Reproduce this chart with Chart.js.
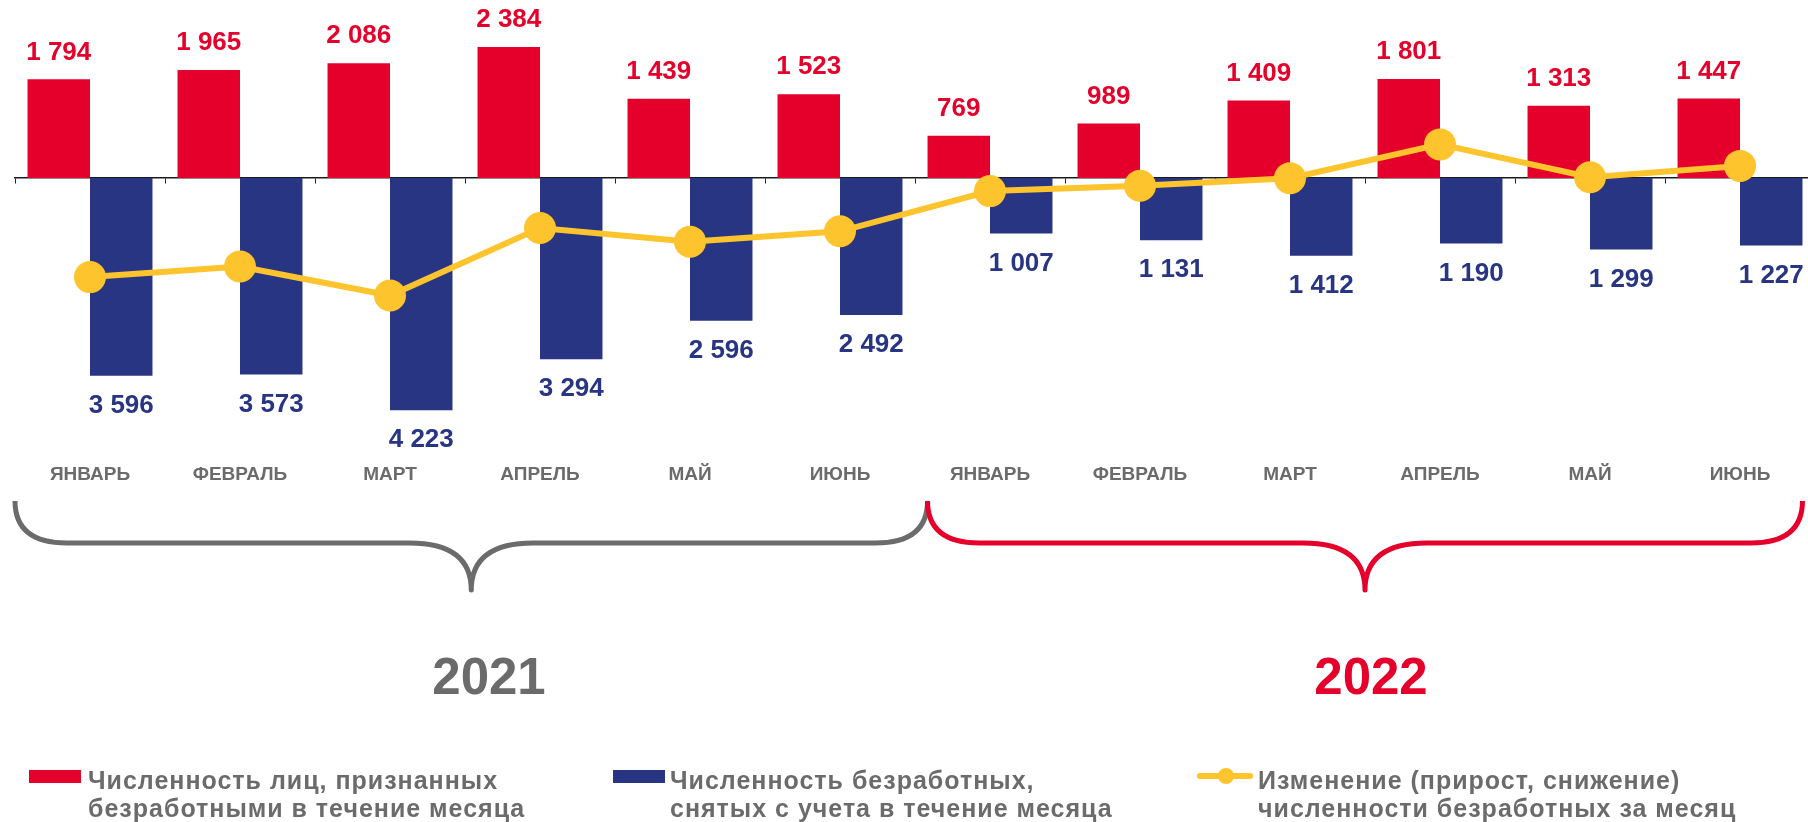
<!DOCTYPE html>
<html lang="ru">
<head>
<meta charset="utf-8">
<title>Численность безработных</title>
<script src="https://cdn.jsdelivr.net/npm/chart.js@4.4.1/dist/chart.umd.min.js"></script>
<style>
  html, body { margin:0; padding:0; width:1808px; height:822px; overflow:hidden; background:#ffffff;
    font-family:"Liberation Sans", Arial, sans-serif; }
  #wrap { position:absolute; left:0; top:0; width:1815px; height:822px; }
  .year { position:absolute; font-weight:bold; font-size:51px; line-height:1; transform:translate(-50%,-50%); white-space:nowrap; }
  .leg { position:absolute; top:766px; font-weight:bold; font-size:25px; line-height:28px; color:#6b6b6b;
    white-space:nowrap; letter-spacing:1px; }
  .box { position:absolute; width:52px; height:13px; top:770px; }
  .lmline { position:absolute; width:56px; height:6px; top:773px; border-radius:3px; }
  .lmdot { position:absolute; width:16px; height:16px; top:768px; border-radius:50%; }
</style>
</head>
<body>
<div id="wrap"><canvas id="c" width="1815" height="822"></canvas></div>
<div id="years"></div>
<div id="legend"></div>
<script>
// ---- data ----
const months = ['ЯНВАРЬ','ФЕВРАЛЬ','МАРТ','АПРЕЛЬ','МАЙ','ИЮНЬ','ЯНВАРЬ','ФЕВРАЛЬ','МАРТ','АПРЕЛЬ','МАЙ','ИЮНЬ'];
const years = ['2021', '2022'];
const recognized = [1794, 1965, 2086, 2384, 1439, 1523, 769, 989, 1409, 1801, 1313, 1447];
const removed = [3596, 3573, 4223, 3294, 2596, 2492, 1007, 1131, 1412, 1190, 1299, 1227];
const change = [-1802, -1608, -2137, -910, -1157, -969, -238, -142, -3, 611, 14, 220];
const seriesNames = [
  'Численность лиц, признанных\nбезработными в течение месяца',
  'Численность безработных,\nснятых с учета в течение месяца',
  'Изменение (прирост, снижение)\nчисленности безработных за месяц'
];

// ---- styles ----
const RED = '#e4002b';
const BLUE = '#283583';
const GOLD = '#fec42d';
const GRAY = '#6b6b6b';
const FONT = '"Liberation Sans", Arial, sans-serif';

const fmt = v => String(Math.abs(v)).replace(/\B(?=(\d{3})+(?!\d))/g, ' ');

function drawBrace(ctx, a, b, color) {
  const c = (a + b) / 2, y0 = 501, y1 = 543, y2 = 590, r1 = 52, r2 = 62;
  ctx.beginPath();
  ctx.moveTo(a, y0);
  ctx.quadraticCurveTo(a, y1, a + r1, y1);
  ctx.lineTo(c - r2, y1);
  ctx.quadraticCurveTo(c, y1, c, y2);
  ctx.quadraticCurveTo(c, y1, c + r2, y1);
  ctx.lineTo(b - r1, y1);
  ctx.quadraticCurveTo(b, y1, b, y0);
  ctx.lineWidth = 5;
  ctx.strokeStyle = color;
  ctx.lineJoin = 'round';
  ctx.stroke();
}

const decoPlugin = {
  id: 'deco',
  afterDatasetsDraw(chart) {
    const ctx = chart.ctx;
    const m0 = chart.getDatasetMeta(0), m1 = chart.getDatasetMeta(1);
    ctx.save();
    ctx.font = 'bold 26px ' + FONT;
    ctx.textAlign = 'center';
    ctx.textBaseline = 'middle';
    m0.data.forEach((el, i) => { ctx.fillStyle = RED; ctx.fillText(fmt(recognized[i]), el.x, el.y - 27); });
    m1.data.forEach((el, i) => { ctx.fillStyle = BLUE; ctx.fillText(fmt(removed[i]), el.x, el.y + 30); });
    ctx.restore();
  },
  afterDraw(chart) {
    const ctx = chart.ctx;
    const m0 = chart.getDatasetMeta(0), m1 = chart.getDatasetMeta(1);
    const L = chart.chartArea.left;
    const first2022 = m0.data[6];
    const M = first2022.x - first2022.width / 2;
    const last = m1.data[m1.data.length - 1];
    const R = last.x + last.width / 2;
    ctx.save();
    drawBrace(ctx, L, M, GRAY);
    drawBrace(ctx, M, R, RED);
    ctx.restore();
  }
};

const chart = new Chart(document.getElementById('c'), {
  type: 'bar',
  data: {
    labels: months,
    datasets: [
      { type:'bar', label: seriesNames[0], data: recognized, backgroundColor: RED, borderWidth: 0,
        categoryPercentage: 0.833, barPercentage: 1.0, order: 1 },
      { type:'bar', label: seriesNames[1], data: removed.map(v => -v), backgroundColor: BLUE, borderWidth: 0,
        categoryPercentage: 0.833, barPercentage: 1.0, order: 1 },
      { type:'line', label: seriesNames[2], data: change, borderColor: GOLD, backgroundColor: GOLD,
        borderWidth: 6, pointRadius: 16, pointHoverRadius: 16, pointBorderWidth: 0,
        pointBackgroundColor: GOLD, tension: 0, order: 0 }
    ]
  },
  options: {
    responsive: false,
    animation: false,
    devicePixelRatio: 1,
    events: [],
    layout: { autoPadding: false, padding: { left: 15, right: 0, top: 13, bottom: 0 } },
    plugins: { legend: { display: false }, tooltip: { enabled: false } },
    scales: {
      x: {
        type: 'category', position: { y: 0 }, offset: true,
        grid: { display: true, offset: true, drawOnChartArea: false, drawTicks: true, tickLength: 5,
                tickColor: '#222222', tickWidth: 1 },
        border: { display: true, color: '#1a1a1a', width: 1.5 },
        ticks: { display: false }
      },
      x2: {
        type: 'category', labels: months, position: 'bottom', offset: true,
        grid: { display: false, drawTicks: false }, border: { display: false },
        ticks: { color: GRAY, font: { family: FONT, size: 19, weight: 'bold' }, padding: 10,
                 autoSkip: false, maxRotation: 0 },
        afterFit(s) { s.height = 369; }
      },
      y: { display: false, min: -5000, max: 3000 }
    }
  },
  plugins: [decoPlugin]
});

// ---- year labels & legend (HTML text) ----
const yearBox = document.getElementById('years');
[[years[0], 489, GRAY], [years[1], 1371, RED]].forEach(([t, x, col]) => {
  const d = document.createElement('div');
  d.className = 'year'; d.textContent = t;
  d.style.left = x + 'px'; d.style.top = '676px'; d.style.color = col;
  yearBox.appendChild(d);
});

const legend = document.getElementById('legend');
function addText(x, txt) {
  const d = document.createElement('div');
  d.className = 'leg'; d.style.left = x + 'px';
  txt.split('\n').forEach((line, i) => {
    if (i) d.appendChild(document.createElement('br'));
    d.appendChild(document.createTextNode(line));
  });
  legend.appendChild(d);
}
function addBox(x, col) {
  const d = document.createElement('div');
  d.className = 'box'; d.style.left = x + 'px'; d.style.background = col;
  legend.appendChild(d);
}
addBox(29, RED); addText(88, seriesNames[0]);
addBox(613, BLUE); addText(670, seriesNames[1]);
const ln = document.createElement('div'); ln.className = 'lmline'; ln.style.left = '1197px'; ln.style.background = GOLD; legend.appendChild(ln);
const dt = document.createElement('div'); dt.className = 'lmdot'; dt.style.left = '1218px'; dt.style.background = GOLD; legend.appendChild(dt);
addText(1258, seriesNames[2]);
</script>
</body>
</html>
